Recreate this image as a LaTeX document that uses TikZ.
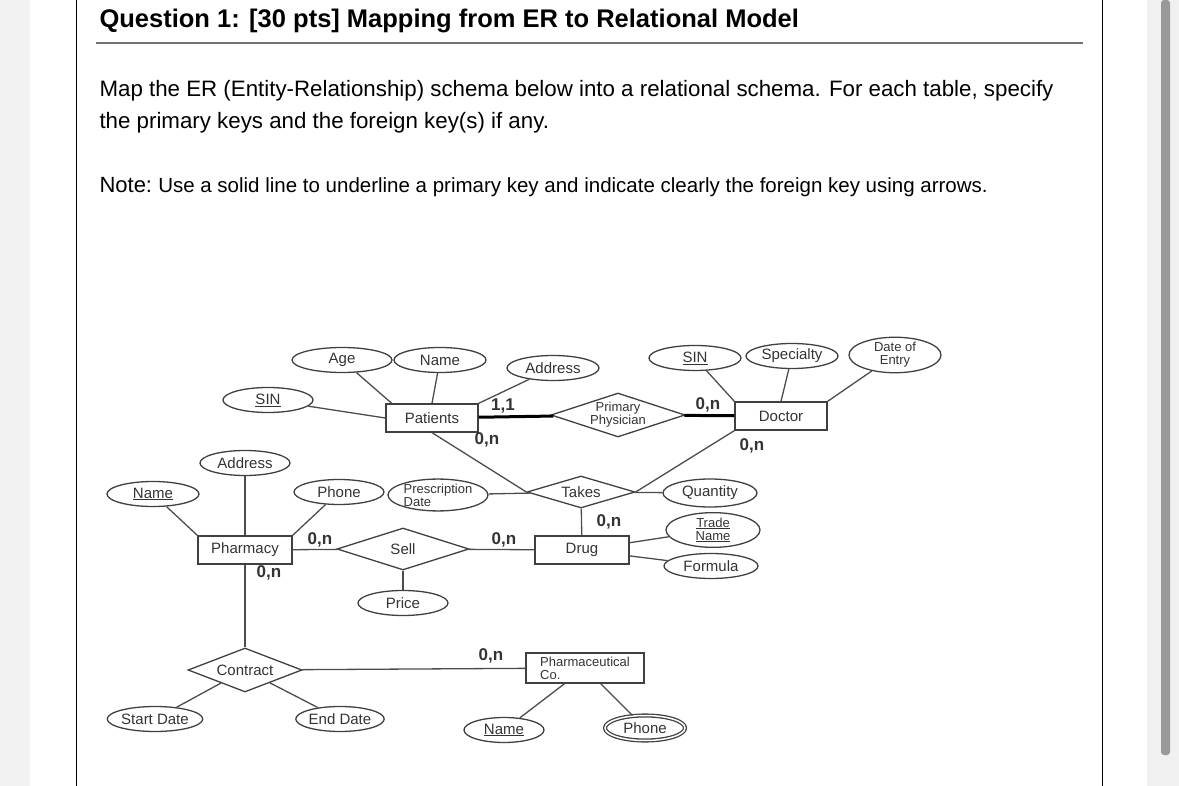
\documentclass[tikz,border=0pt]{standalone}
\usepackage{fontspec}
\setmainfont{Liberation Sans}
\usetikzlibrary{shapes.geometric}
\begin{document}
\begin{tikzpicture}[x=1pt,y=-1pt,
  er/.style={font=\fontsize{15}{15}\selectfont, text=black!80, draw=black!75, line width=1.3pt, inner sep=0pt},
  attr/.style={er, ellipse, minimum width=#1, minimum height=25},
  attr/.default=92,
  ent/.style={er, rectangle, minimum width=92, minimum height=28},
  rel/.style={er, diamond, aspect=3},
  ln/.style={draw=black!70, line width=1.3pt},
  thick ln/.style={draw=black, line width=3pt},
  two/.style={font=\fontsize{13}{13}\selectfont},
  card/.style={font=\bfseries\fontsize{17}{17}\selectfont, text=black!80, inner sep=0pt}]
\useasboundingbox (0,0) rectangle (1179,786);
\fill[black!5] (0,0) rectangle (30,786);
\fill[black!6] (1147,0) rectangle (1179,786);
\fill[black!40, rounded corners=3] (1161,0) rectangle (1170,755);
\draw[line width=1pt] (76,0) -- (76,786);
\draw[line width=1pt] (1102,0) -- (1102,786);
\draw[black!55, line width=1.2pt] (96,43) -- (1083,43);
\node[anchor=west, font=\bfseries\fontsize{25.5}{28}\selectfont] (title) at (96,21) {Question 1: [30 pts] Mapping from ER to Relational Model};
\node[anchor=west, align=left, font=\fontsize{22.3}{32}\selectfont] (body) at (96,107) {Map the ER (Entity-Relationship) schema below into a relational schema. For each table, specify\\the primary keys and the foreign key(s) if any.};
\node[anchor=west, font=\fontsize{22}{26}\selectfont] (note) at (96,187) {Note:\hspace{-2pt} \fontsize{20.5}{26}\selectfont Use a solid line to underline a primary key and indicate clearly the foreign key using arrows.};

\node[ent] (pat) at (432,418) {Patients};
\node[attr=100] (age) at (342,360) {Age};
\node[attr] (pname) at (440,360) {Name};
\node[attr] (paddr) at (553,368) {Address};
\node[attr=90] (psin) at (268,400) {\underline{SIN}};
\node[rel, minimum width=134, minimum height=44, align=center, two] (pp) at (618,415) {Primary\\Physician};
\node[ent] (doc) at (781,416) {Doctor};
\node[attr] (dsin) at (695,358) {\underline{SIN}};
\node[attr] (spec) at (792,356) {Specialty};
\node[attr, align=center, two] (doe) at (895,355) {Date of\\Entry};
\node[rel, minimum width=108, minimum height=32] (takes) at (581,492) {Takes};
\node[attr=100, minimum height=30, align=left, two] (pdate) at (438,495) {Prescription\\Date};
\node[attr=94, minimum height=28] (qty) at (710,493) {Quantity};
\node[ent, minimum width=94] (drug) at (582,550) {Drug};
\node[attr=94, minimum height=28, align=center, two] (tname) at (713,530) {\underline{Trade}\\\underline{Name}};
\node[attr=94] (form) at (711,566) {Formula};
\node[ent, minimum width=94] (phar) at (245,550) {Pharmacy};
\node[attr=90] (haddr) at (245,463) {Address};
\node[attr] (hname) at (153,494) {\underline{Name}};
\node[attr=90] (hphone) at (339,492) {Phone};
\node[rel, minimum width=132, minimum height=42] (sell) at (403,549) {Sell};
\node[attr=90] (price) at (403,603) {Price};
\node[rel, minimum width=114, minimum height=44] (con) at (245,670) {Contract};
\node[attr=80] (sdate) at (155,719) {Start Date};
\node[attr=80] (edate) at (340,719) {End Date};
\node[ent, minimum width=118, minimum height=30, align=left, two] (pco) at (585,668) {Pharmaceutical\\Co.};
\node[attr=80] (cname) at (504,730) {\underline{Name}};
\node[attr=80, double, double distance=1.5pt] (cphone) at (645,728) {Phone};

\draw[ln] (psin) -- (pat.west);
\draw[ln] (age) -- (pat.160);
\draw[ln] (pname) -- (pat.north);
\draw[ln] (paddr) -- (pat.north east);
\draw[thick ln] (pat) -- (pp);
\draw[thick ln] (pp) -- (doc);
\draw[ln] (dsin) -- (doc.north west);
\draw[ln] (spec) -- (doc.north);
\draw[ln] (doe) -- (doc.north east);
\draw[ln] (pat.south) -- (takes.west);
\draw[ln] (doc.south west) -- (takes.east);
\draw[ln] (pdate) -- (takes);
\draw[ln] (takes) -- (qty);
\draw[ln] (takes) -- (drug);
\draw[ln] (drug) -- (tname);
\draw[ln] (drug) -- (form);
\draw[ln] (haddr) -- (phar);
\draw[ln] (hname) -- (phar.north west);
\draw[ln] (hphone) -- (phar.north east);
\draw[ln] (phar) -- (sell) -- (drug);
\draw[ln] (sell) -- (price);
\draw[ln] (phar) -- (con);
\draw[ln] (con) -- (pco);
\draw[ln] (con) -- (sdate);
\draw[ln] (con) -- (edate);
\draw[ln] (pco) -- (cname);
\draw[ln] (pco) -- (cphone);

\node[card] (c1) at (503,406) {1,1};
\node[card] (c2) at (487,440) {0,n};
\node[card] (c3) at (708,405) {0,n};
\node[card] (c4) at (752,446) {0,n};
\node[card] (c5) at (609,522) {0,n};
\node[card] (c6) at (320,540) {0,n};
\node[card] (c7) at (504,540) {0,n};
\node[card] (c8) at (269,573) {0,n};
\node[card] (c9) at (491,656) {0,n};
\end{tikzpicture}
\end{document}
